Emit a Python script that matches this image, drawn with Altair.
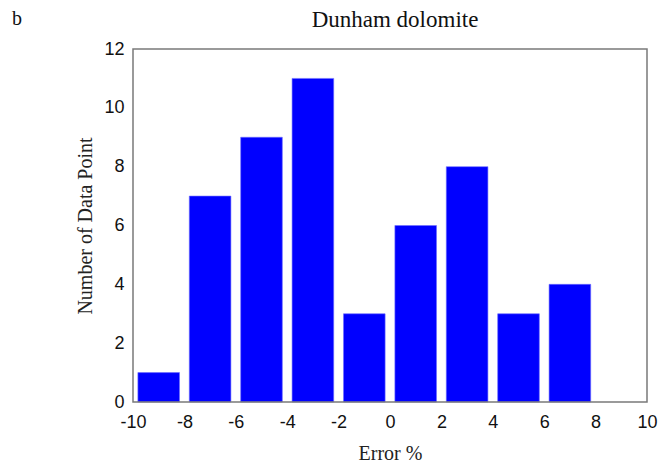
import altair as alt
import pandas as pd

bin_centers = [-9, -7, -5, -3, -1, 1, 3, 5, 7]
counts = [1, 7, 9, 11, 3, 6, 8, 3, 4]

df = pd.DataFrame({"center": bin_centers, "count": counts})

half_width = 0.81

bars = alt.Chart(df).transform_calculate(
    lo=f"datum.center - {half_width}", hi=f"datum.center + {half_width}"
).mark_rect(color="#0000FF", stroke="#6f6fff", strokeWidth=0.6).encode(
    x=alt.X("lo:Q", scale=alt.Scale(domain=[-10, 10], nice=False),
            axis=alt.Axis(title="Error %", values=list(range(-10, 11, 2)),
                          labelExpr="'' + datum.value", labelFlush=False,
                          grid=False, ticks=False, domain=False,
                          labelFont="Liberation Sans", labelFontSize=18, labelColor="#111",
                          labelPadding=11,
                          titleFont="Liberation Serif", titleFontSize=20, titleFontWeight="normal",
                          titleColor="#222", titlePadding=12)),
    x2="hi:Q",
    y=alt.Y("count:Q", scale=alt.Scale(domain=[0, 12], nice=False),
            axis=alt.Axis(title="Number of Data Point", values=list(range(0, 13, 2)),
                          labelExpr="'' + datum.value", labelFlush=False,
                          grid=False, ticks=False, domain=False,
                          labelFont="Liberation Sans", labelFontSize=18, labelColor="#111",
                          labelPadding=9,
                          titleFont="Liberation Serif", titleFontSize=20, titleFontWeight="normal",
                          titleColor="#222", titlePadding=8)),
    y2=alt.datum(0),
)

frame = alt.Chart(pd.DataFrame({"f": [0]})).mark_rect(
    fill=None, stroke="#7a7a7a", strokeWidth=1.5
).encode(x=alt.value(0), x2=alt.value(514), y=alt.value(0), y2=alt.value(353))

label = alt.Chart(pd.DataFrame({"t": ["b"]})).mark_text(
    font="Liberation Serif", fontSize=20, color="#111", align="left",
    baseline="top", clip=False
).encode(text="t:N", x=alt.value(-121), y=alt.value(-40))

chart = alt.layer(bars, frame, label).properties(
    width=514, height=353,
    background="white",
    autosize=alt.AutoSizeParams(type="none"),
    padding={"left": 125, "top": 41, "right": 16, "bottom": 63},
    title=alt.TitleParams("Dunham dolomite", font="Liberation Serif", fontSize=23,
                          fontWeight="normal", color="#111", offset=20, dy=43, dx=5,
                          anchor="middle", frame="group"),
).configure_view(strokeWidth=0)

chart.save("out.html", embed_options={"renderer": "svg", "actions": False})
